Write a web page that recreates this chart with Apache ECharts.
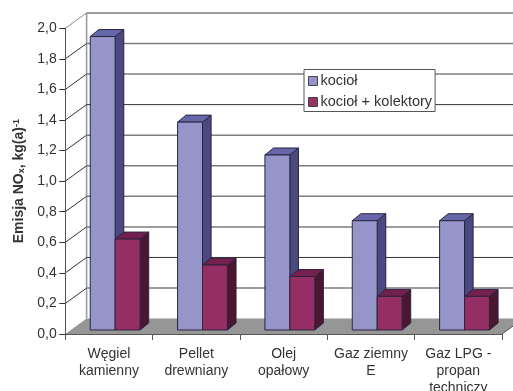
<!DOCTYPE html>
<html>
<head>
<meta charset="utf-8">
<style>html,body{margin:0;padding:0;background:#fff}#c{width:513px;height:391px}</style>
<script src="https://cdn.jsdelivr.net/npm/echarts@6/dist/echarts.min.js"></script>
</head>
<body>
<div id="c"></div>
<script>
// NOx emissions per heat source, boiler alone and boiler with solar collectors
const categories = ['Węgiel\nkamienny', 'Pellet\ndrewniany', 'Olej\nopałowy', 'Gaz ziemny\nE', 'Gaz LPG -\npropan\ntechniczy'];
const boiler = [1.92, 1.36, 1.145, 0.715, 0.715];
const boilerCollectors = [0.595, 0.425, 0.35, 0.22, 0.22];
const wallTicks = [0.2, 0.4, 0.6, 0.8, 1.0, 1.2, 1.4, 1.6, 1.8, 2.0];
const seriesNames = ['kocioł', 'kocioł + kolektory'];
const axisTitle = '{b|Emisja NO}{s|x}{b|, kg(a)}{u|-1}';

// Pseudo-3D projection of the chart box and of the bars standing inside it
const WALL_DX = 21.3, WALL_DY = 15.4;
const BAR_DX = 8.6, BAR_DY = 7, BAR_LIFT = 4, BAR_SHIFT = 6.2;
const FONT = '"Liberation Sans", Arial, sans-serif';

function renderWallLine(params, api) {
  const v = api.value(1);
  const r = params.coordSys;
  const p = api.coord([0, v]);
  const x0 = r.x, y0 = p[1];
  const top = v === 2;
  // The 0,4 and 1,4 rules print crisp and dark, the others softer and wider
  const crisp = Math.abs(v - 0.4) < 1e-6 || Math.abs(v - 1.4) < 1e-6;
  return {
    type: 'group',
    children: [
      { type: 'polyline', shape: { points: [[x0, y0], [x0 + WALL_DX, y0 - WALL_DY]] },
        style: { stroke: top ? '#8c8c8c' : '#333333', lineWidth: 1, fill: null } },
      { type: 'polyline', shape: { points: [[x0 + WALL_DX, y0 - WALL_DY], [r.x + r.width + WALL_DX, y0 - WALL_DY]] },
        style: { stroke: crisp ? '#333333' : '#7c7c7c', lineWidth: crisp ? 1 : 1.5, fill: null } }
    ]
  };
}

function renderFloor(params, api) {
  const r = params.coordSys;
  const b = r.y + r.height;
  return {
    type: 'group',
    children: [
      { type: 'polygon',
        shape: { points: [[r.x, b], [r.x + WALL_DX, b - WALL_DY], [r.x + r.width + WALL_DX, b - WALL_DY], [r.x + r.width, b]] },
        style: { fill: '#969696' } },
      { type: 'polyline', shape: { points: [[r.x + WALL_DX, r.y - WALL_DY], [r.x + WALL_DX, b - WALL_DY]] },
        style: { stroke: '#9a9aa8', lineWidth: 1.6, fill: null } },
      { type: 'polyline', shape: { points: [[r.x + r.width, b], [r.x + r.width + WALL_DX, b - WALL_DY]] },
        style: { stroke: '#555555', lineWidth: 1, fill: null } }
    ]
  };
}

function barRenderer(slot, front, topFace, side) {
  return function (params, api) {
    const cat = api.value(0);
    const w = api.size([1, 0])[0] * 0.2855;
    const c = api.coord([cat, api.value(1)]);
    const base = api.coord([cat, 0])[1] - BAR_LIFT;
    const topY = c[1] - BAR_LIFT;
    const x0 = c[0] + BAR_SHIFT + (slot - 1) * w;
    const x1 = x0 + w;
    const edge = { stroke: '#2b2440', lineWidth: 1, lineJoin: 'round' };
    return {
      type: 'group',
      children: [
        { type: 'polygon', shape: { points: [[x1, base], [x1 + BAR_DX, base - BAR_DY], [x1 + BAR_DX, topY - BAR_DY], [x1, topY]] },
          style: Object.assign({ fill: side }, edge) },
        { type: 'polygon', shape: { points: [[x0, topY], [x0 + BAR_DX, topY - BAR_DY], [x1 + BAR_DX, topY - BAR_DY], [x1, topY]] },
          style: Object.assign({ fill: topFace }, edge) },
        { type: 'rect', shape: { x: x0, y: topY, width: w, height: base - topY },
          style: Object.assign({ fill: front }, edge) }
      ]
    };
  };
}

const chart = echarts.init(document.getElementById('c'), null, { renderer: 'canvas' });
chart.setOption({
  animation: false,
  backgroundColor: '#ffffff',
  textStyle: { fontFamily: FONT },
  grid: { left: 65.3, right: 11, top: 28.3, bottom: 57, containLabel: false, outerBoundsMode: 'none' },
  legend: {
    orient: 'vertical',
    left: 304, top: 69.5,
    padding: [4, 3, 2, 4],
    itemGap: 6,
    itemWidth: 9, itemHeight: 9,
    backgroundColor: '#ffffff',
    borderColor: '#555555', borderWidth: 1,
    selectedMode: false,
    textStyle: { fontFamily: FONT, fontSize: 14.5, color: '#333333', padding: [0, 0, 0, -2], lineHeight: 14 },
    data: [
      { name: seriesNames[0], icon: 'rect', itemStyle: { color: '#9595c9', borderColor: '#444', borderWidth: 1 } },
      { name: seriesNames[1], icon: 'rect', itemStyle: { color: '#993366', borderColor: '#444', borderWidth: 1 } }
    ],
    z: 20
  },
  xAxis: {
    type: 'category',
    data: categories,
    z: 5,
    axisLine: { lineStyle: { color: '#555555', width: 1 } },
    axisTick: { show: true, length: 6, lineStyle: { color: '#555555' } },
    axisLabel: { interval: 0, fontFamily: FONT, fontSize: 14, lineHeight: 17, color: '#333333', margin: 11.5, hideOverlap: false },
    splitLine: { show: false }
  },
  yAxis: {
    type: 'value',
    min: 0, max: 2, interval: 0.2,
    z: 5,
    name: axisTitle,
    nameLocation: 'middle',
    nameRotate: 90,
    nameGap: 38,
    nameTextStyle: {
      rich: {
        b: { fontFamily: FONT, fontSize: 14, fontWeight: 'bold', color: '#333333' },
        s: { fontFamily: FONT, fontSize: 9, fontWeight: 'bold', color: '#333333', verticalAlign: 'bottom', padding: [5, 0, 0, 0] },
        u: { fontFamily: FONT, fontSize: 9, fontWeight: 'bold', color: '#333333', verticalAlign: 'top', padding: [0, 0, 5, 0] }
      }
    },
    axisLine: { show: true, lineStyle: { color: '#555555', width: 1 } },
    axisTick: { show: true, length: 6, lineStyle: { color: '#333333' } },
    axisLabel: {
      fontFamily: FONT, fontSize: 14, color: '#333333', margin: 8.5, padding: [5, 0, 0, 0],
      formatter: v => v.toFixed(1).replace('.', ',')
    },
    splitLine: { show: false }
  },
  series: [
    { type: 'custom', name: 'floor', silent: true, z: 1, renderItem: renderFloor, data: [[0, 0]], tooltip: { show: false } },
    { type: 'custom', name: 'wall', silent: true, z: 1, renderItem: renderWallLine, data: wallTicks.map(v => [0, v]) },
    { type: 'custom', name: seriesNames[0], silent: true, z: 2,
      itemStyle: { color: '#9595c9' },
      renderItem: barRenderer(0, '#9595c9', '#6666aa', '#4a4a80'),
      data: boiler.map((v, i) => [i, v]) },
    { type: 'custom', name: seriesNames[1], silent: true, z: 3,
      itemStyle: { color: '#993366' },
      renderItem: barRenderer(1, '#952e62', '#74204f', '#4a1630'),
      data: boilerCollectors.map((v, i) => [i, v]) }
  ]
});
</script>
</body>
</html>
